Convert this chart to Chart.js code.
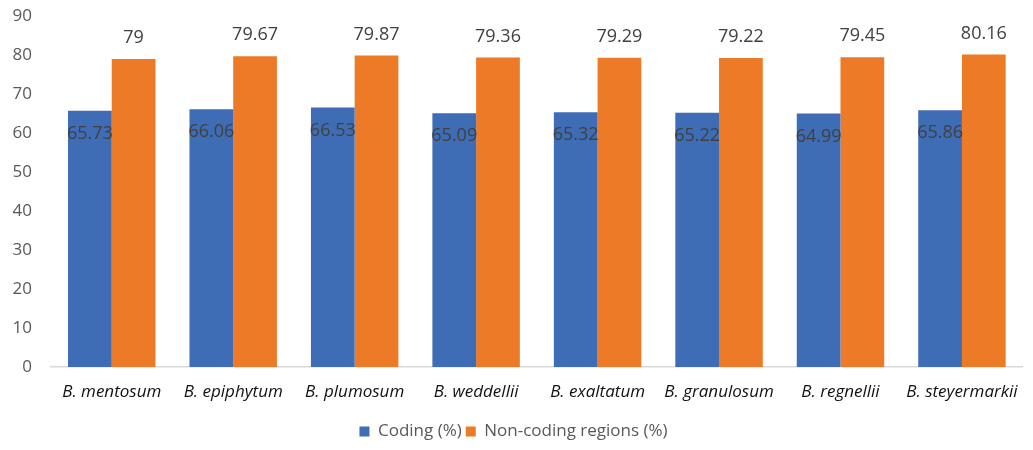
<!DOCTYPE html>
<html>
<head>
<meta charset="utf-8">
<script src="https://cdn.jsdelivr.net/npm/chart.js@4"></script>
<style>
  html, body { margin: 0; padding: 0; background: #fff; }
  #wrap { width: 1033px; height: 450px; position: relative; }
</style>
</head>
<body>
<div id="wrap"><canvas id="c"></canvas></div>
<script>
const species = ['B. mentosum', 'B. epiphytum', 'B. plumosum', 'B. weddellii', 'B. exaltatum', 'B. granulosum', 'B. regnellii', 'B. steyermarkii'];
const coding = [65.73, 66.06, 66.53, 65.09, 65.32, 65.22, 64.99, 65.86];
const nonCoding = [79, 79.67, 79.87, 79.36, 79.29, 79.22, 79.45, 80.16];
const yTicks = [0, 10, 20, 30, 40, 50, 60, 70, 80, 90];

const FONT = "'Open Sans', 'Noto Sans', sans-serif";

// Value labels: coding inside the bar top, non-coding above the bar
const valueLabels = {
  id: 'valueLabels',
  afterDatasetsDraw(chart) {
    const ctx = chart.ctx;
    ctx.save();
    ctx.font = '18px ' + FONT;
    ctx.fillStyle = '#404040';
    ctx.textAlign = 'center';
    ctx.textBaseline = 'middle';
    chart.data.datasets.forEach((ds, i) => {
      const meta = chart.getDatasetMeta(i);
      meta.data.forEach((bar, j) => {
        const v = ds.data[j];
        const y = i === 0 ? bar.y + 23 : bar.y - 21;
        ctx.fillText(String(v), bar.x, y);
      });
    });
    ctx.restore();
  }
};

new Chart(document.getElementById('c'), {
  type: 'bar',
  data: {
    labels: species,
    datasets: [
      { label: 'Coding (%)', data: coding, backgroundColor: '#3E6DB5' },
      { label: 'Non-coding regions (%)', data: nonCoding, backgroundColor: '#EC7A26' }
    ]
  },
  options: {
    responsive: true,
    maintainAspectRatio: false,
    animation: false,
    layout: { padding: { left: 0, right: 6, top: 0, bottom: 0 } },
    datasets: { bar: { barPercentage: 1.0, categoryPercentage: 0.72 } },
    scales: {
      x: {
        grid: { display: false, drawTicks: false },
        border: { display: true, color: '#D9D9D9', width: 1.5 },
        ticks: { color: '#111', font: { family: FONT, size: 17, style: 'italic' }, padding: 15 },
        afterFit(scale) { scale.height = 52; }
      },
      y: {
        min: 0,
        max: 90,
        afterBuildTicks(axis) { axis.ticks = yTicks.map(v => ({ value: v })); },
        grid: { display: false, drawTicks: false },
        border: { display: false },
        ticks: { color: '#595959', font: { family: FONT, size: 17 }, padding: 19 },
        afterFit(scale) { scale.width = 51; scale.paddingTop = 16; }
      }
    },
    plugins: {
      legend: {
        position: 'bottom',
        labels: {
          color: '#595959',
          font: { family: FONT, size: 17 },
          boxWidth: 10,
          boxHeight: 10,
          padding: 4
        }
      },
      tooltip: { enabled: false }
    }
  },
  plugins: [valueLabels]
});
</script>
</body>
</html>
